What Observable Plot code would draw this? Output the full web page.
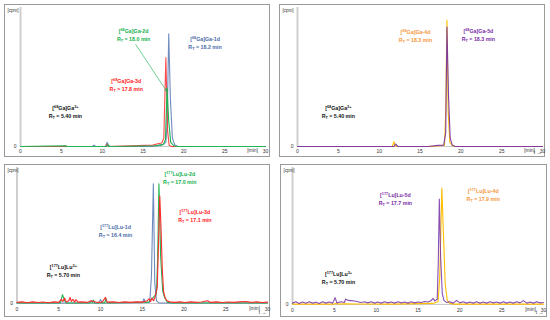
<!DOCTYPE html>
<html><head><meta charset="utf-8">
<script src="https://cdn.jsdelivr.net/npm/d3@7"></script>
<script src="https://cdn.jsdelivr.net/npm/@observablehq/plot@0.6"></script>
<style>
body{margin:0;background:#fff;}
#wrap{position:relative;width:550px;height:320px;background:#fff;font-family:"Liberation Sans",Arial,sans-serif;}
.panel{position:absolute;border:1px solid #9a9a9a;box-sizing:border-box;}
.panel svg{display:block;}
</style></head>
<body><div id="wrap"></div>
<script>
// ---------- data: [time (min), relative counts] ----------
const xTicks = [0, 5, 10, 15, 20, 25, 30];

// Panel A: 68Ga complexes 1d-3d
const ga1d = [[0,0],[8.8,0],[9.0,0.01],[9.2,0],[10.4,0],[10.6,0.03],[10.8,0.005],[11,0],[16,0],[17.3,0.01],[17.8,0.03],[17.95,0.15],[18.15,0.81],[18.35,0.35],[18.6,0.06],[18.9,0.01],[19.3,0],[30,0]];
const ga2d = [[0,0],[5.5,0.005],[5.7,0],[10.5,0],[10.7,0.012],[10.9,0],[16.5,0.005],[17.5,0.015],[17.75,0.05],[17.95,0.42],[18.15,0.18],[18.4,0.03],[18.8,0.005],[19.2,0],[30,0]];
const ga3d = [[0,0],[5.3,0],[5.5,0.005],[5.7,0],[10.4,0],[10.6,0.015],[10.8,0],[16.2,0.01],[16.8,0.02],[17.3,0.025],[17.55,0.06],[17.8,0.64],[18.0,0.12],[18.2,0.01],[18.5,0],[30,0]];

// Panel B: 68Ga complexes 4d-5d
const ga4d = [[0,0],[11.6,0],[11.8,0.035],[11.95,0.005],[12.2,0],[16,0],[17.5,0.005],[18.0,0.01],[18.15,0.25],[18.3,0.91],[18.45,0.25],[18.65,0.03],[19.0,0.005],[19.3,0],[30,0]];
const ga5d = [[0,0],[11.8,0],[12.0,0.018],[12.3,0],[16,0],[17.2,0.008],[17.9,0.01],[18.15,0.1],[18.3,0.86],[18.5,0.35],[18.7,0.06],[18.95,0.01],[19.3,0],[30,0]];

// Panel C: 177Lu complexes 1d-3d
const lu1d = [[0,0.004],[3,0.004],[8.7,0.004],[8.9,0.022],[9.1,0.004],[9.8,0.004],[10.0,0.03],[10.2,0.004],[15.0,0.006],[15.2,0.035],[15.4,0.006],[15.9,0.01],[16.1,0.2],[16.33,0.88],[16.5,0.15],[16.7,0.02],[17.0,0.004],[30,0.004]];
const lu2d = [[0,0.004],[5.2,0.004],[5.45,0.065],[5.7,0.02],[5.9,0.004],[9.0,0.004],[9.15,0.025],[9.3,0.004],[10.5,0.004],[10.65,0.035],[10.8,0.004],[15.8,0.01],[16.0,0.025],[16.4,0.05],[16.7,0.07],[16.85,0.35],[17.0,0.88],[17.2,0.35],[17.45,0.09],[17.7,0.04],[18.0,0.01],[18.5,0.004],[30,0.004]];
const lu3d = [[0,0.008],[0.6,0.012],[1.2,0.006],[1.9,0.012],[2.5,0.007],[3.1,0.011],[3.8,0.006],[4.4,0.012],[5.0,0.008],[5.3,0.03],[5.5,0.015],[5.7,0.04],[5.9,0.01],[6.2,0.02],[6.35,0.045],[6.5,0.015],[6.7,0.03],[6.9,0.01],[7.05,0.028],[7.3,0.01],[7.8,0.012],[8.4,0.008],[8.9,0.02],[9.2,0.015],[9.6,0.008],[10.2,0.01],[10.6,0.045],[10.8,0.01],[11.5,0.012],[12.2,0.007],[12.9,0.012],[13.6,0.008],[14.3,0.012],[15.0,0.01],[15.6,0.02],[15.8,0.035],[16.0,0.015],[16.15,0.04],[16.35,0.02],[16.55,0.05],[16.8,0.12],[16.95,0.45],[17.1,0.79],[17.25,0.55],[17.4,0.25],[17.55,0.09],[17.75,0.04],[17.95,0.02],[18.3,0.012],[18.9,0.008],[19.5,0.012],[20.1,0.007],[20.8,0.012],[21.5,0.008],[22.1,0.011],[22.8,0.02],[23.2,0.008],[23.9,0.012],[24.6,0.007],[25.3,0.011],[26.0,0.008],[26.7,0.012],[27.4,0.015],[28.0,0.008],[28.7,0.012],[29.4,0.007],[30,0.01]];

// Panel D: 177Lu complexes 4d-5d
const lu4d = [[0,0.003],[5.0,0.003],[5.2,0.01],[5.4,0.003],[6.2,0.006],[7.5,0.004],[12,0.003],[16.8,0.008],[17.4,0.02],[17.6,0.2],[17.85,0.85],[18.05,0.5],[18.25,0.15],[18.5,0.03],[18.8,0.008],[19.3,0.003],[30,0.003]];
const lu5d = [[0,0.01],[0.4,0.02],[0.8,0.008],[1.2,0.018],[1.6,0.009],[2.0,0.02],[2.4,0.01],[2.8,0.017],[3.2,0.008],[3.6,0.02],[4.0,0.01],[4.4,0.018],[4.8,0.01],[5.1,0.05],[5.3,0.012],[5.8,0.02],[6.2,0.015],[6.35,0.04],[6.6,0.03],[7.0,0.028],[7.4,0.025],[7.8,0.02],[8.2,0.015],[8.6,0.02],[9.0,0.012],[9.4,0.02],[9.8,0.01],[10.2,0.018],[10.6,0.01],[11.0,0.02],[11.4,0.012],[11.8,0.018],[12.2,0.01],[12.6,0.02],[13.0,0.012],[13.4,0.018],[13.8,0.01],[14.2,0.02],[14.6,0.012],[15.0,0.018],[15.4,0.014],[15.8,0.022],[16.2,0.018],[16.6,0.03],[16.8,0.045],[17.0,0.025],[17.3,0.04],[17.42,0.3],[17.55,0.77],[17.7,0.35],[17.9,0.08],[18.1,0.03],[18.4,0.015],[18.8,0.02],[19.2,0.01],[19.6,0.03],[20.0,0.012],[20.4,0.02],[20.8,0.01],[21.2,0.018],[21.6,0.01],[22.0,0.02],[22.4,0.01],[22.8,0.018],[23.2,0.01],[23.6,0.02],[24.0,0.012],[24.4,0.018],[24.8,0.01],[25.2,0.02],[25.6,0.01],[26.0,0.018],[26.4,0.01],[26.8,0.02],[27.2,0.012],[27.6,0.028],[28.0,0.01],[28.4,0.018],[28.8,0.01],[29.2,0.02],[29.6,0.012],[30,0.015]];

// annotation texts (two lines each) and their anchor (time, relative counts)
const annA = [
  {t:13.85, v:0.80, l1:"[^{68}Ga]Ga-2d", l2:"R_{T} = 18.0 min", c:"#12b04c"},
  {t:22.6,  v:0.745, l1:"[^{68}Ga]Ga-1d", l2:"R_{T} = 18.2 min", c:"#4a6aa8"},
  {t:12.95, v:0.44, l1:"[^{68}Ga]Ga-3d", l2:"R_{T} = 17.8 min", c:"#ff1a1a"},
  {t:5.5,   v:0.245, l1:"[^{68}Ga]Ga^{3+}", l2:"R_{T} = 5.40 min", c:"#111"}
];
const arrowA = [{t1:14.1, v1:0.735, t2:17.87, v2:0.40}];
const annB = [
  {t:14.45, v:0.795, l1:"[^{68}Ga]Ga-4d", l2:"R_{T} = 18.3 min", c:"#f7963c"},
  {t:22.15, v:0.80, l1:"[^{68}Ga]Ga-5d", l2:"R_{T} = 18.3 min", c:"#7a2aa6"},
  {t:5.0,   v:0.245, l1:"[^{68}Ga]Ga^{3+}", l2:"R_{T} = 5.40 min", c:"#111"}
];
const annC = [
  {t:19.5, v:0.92, l1:"[^{177}Lu]Lu-2d", l2:"R_{T} = 17.0 min", c:"#12b04c"},
  {t:21.3, v:0.64, l1:"[^{177}Lu]Lu-3d", l2:"R_{T} = 17.1 min", c:"#ff1a1a"},
  {t:11.8, v:0.53, l1:"[^{177}Lu]Lu-1d", l2:"R_{T} = 16.4 min", c:"#4a6aa8"},
  {t:5.55, v:0.235, l1:"[^{177}Lu]Lu^{3+}", l2:"R_{T} = 5.70 min", c:"#111"}
];
const annD = [
  {t:12.3, v:0.77, l1:"[^{177}Lu]Lu-5d", l2:"R_{T} = 17.7 min", c:"#7a2aa6"},
  {t:22.8, v:0.795, l1:"[^{177}Lu]Lu-4d", l2:"R_{T} = 17.9 min", c:"#f7963c"},
  {t:5.5,  v:0.19, l1:"[^{177}Lu]Lu^{3+}", l2:"R_{T} = 5.70 min", c:"#111"}
];

const C = {blue:"#5677b4", red:"#ff2a2a", green:"#1fb455", orange:"#ffbf00", purple:"#7430a6"};

// turn ^{..} / _{..} markers into super/subscript tspans
function rich(svg){
  const ns = "http://www.w3.org/2000/svg";
  svg.querySelectorAll("text").forEach(node=>{
    if (node.children.length) return;
    const s = node.textContent;
    if (!/[\^_]\{/.test(s)) return;
    const parts = s.split(/(\^\{[^}]*\}|_\{[^}]*\})/).filter(p=>p.length);
    node.textContent = "";
    let shift = 0;
    parts.forEach(p=>{
      let target = 0, txt = p, small = false;
      if (p.startsWith("^{")) { target = -1.9; txt = p.slice(2,-1); small = true; }
      else if (p.startsWith("_{")) { target = 1.0; txt = p.slice(2,-1); small = true; }
      if (!small && shift === 0) { node.appendChild(document.createTextNode(txt)); return; }
      const ts = document.createElementNS(ns, "tspan");
      if (target - shift !== 0) ts.setAttribute("dy", target - shift);
      shift = target;
      if (small) ts.setAttribute("font-size", "3.8");
      ts.textContent = txt;
      node.appendChild(ts);
    });
  });
}

function panel(cfg){
  const div = document.createElement("div");
  div.className = "panel";
  div.style.left = cfg.left + "px"; div.style.top = cfg.top + "px";
  div.style.width = cfg.w + "px"; div.style.height = cfg.h + "px";
  const marks = [
    Plot.ruleY([0], {stroke:"#c9c9c9", strokeWidth:1}),
    Plot.ruleX([0], {stroke:"#cfcfcf", strokeWidth:2}),
    Plot.axisX({ticks:xTicks, tickSize:0, tickPadding:cfg.tp, fontSize:5, fill:"#333", tickFormat:d=>d}),
    Plot.text(["0"], {x:0, y:0, text:d=>d, dx:-4, textAnchor:"end", fontSize:5, fill:"#333"}),
    Plot.text(["[cpm]"], {frameAnchor:"top-left", text:d=>d, dx:-cfg.ml+2, dy:1, textAnchor:"start", fontSize:4.5, fill:"#333"}),
    Plot.text(["[min]"], {x:30, y:0, text:d=>d, dx:-7.5, dy:cfg.tp - 1.5, textAnchor:"end", lineAnchor:"top", fontSize:5, fill:"#333"}),
  ];
  cfg.series.forEach(s=>{
    marks.push(Plot.line(s.data, {x:d=>d[0], y:d=>d[1], stroke:s.color, strokeWidth:1.1, strokeOpacity:s.op ?? 1}));
  });
  if (cfg.arrows) marks.push(Plot.arrow(cfg.arrows, {x1:"t1", y1:"v1", x2:"t2", y2:"v2", stroke:"#12b04c", strokeWidth:0.6, headLength:5}));
  const st = {fill:"c", fontSize:5.3, fontWeight:"bold"};
  marks.push(Plot.text(cfg.ann, {x:"t", y:"v", text:"l1", dy:-4, ...st}));
  marks.push(Plot.text(cfg.ann, {x:"t", y:"v", text:"l2", dy:4, ...st}));
  const svg = Plot.plot({
    width: cfg.w - 2, height: cfg.h - 2,
    marginLeft: cfg.ml, marginRight: cfg.mr, marginTop: cfg.mt, marginBottom: cfg.mb,
    x: {domain:[0,30], axis:null},
    y: {domain:[0,1], axis:null},
    style: {fontFamily:"'Liberation Sans', Arial, sans-serif", background:"transparent", overflow:"visible"},
    marks
  });
  rich(svg);
  div.appendChild(svg);
  document.getElementById("wrap").appendChild(div);
}

panel({left:4, top:4, w:266, h:153, ml:15, mr:4, mt:2, mb:10, tp:3,
  series:[{data:ga1d,color:C.blue,op:0.85},{data:ga3d,color:C.red,op:0.85},{data:ga2d,color:C.green}],
  ann:annA, arrows:arrowA});
panel({left:279, top:4, w:266, h:153, ml:17, mr:2, mt:2, mb:10, tp:3,
  series:[{data:ga4d,color:C.orange},{data:ga5d,color:C.purple,op:0.9}],
  ann:annB});
panel({left:4, top:164, w:266, h:153, ml:11.5, mr:2, mt:2, mb:13, tp:4,
  series:[{data:lu1d,color:C.blue,op:0.85},{data:lu2d,color:C.green},{data:lu3d,color:C.red}],
  ann:annC});
panel({left:280, top:164, w:267, h:153, ml:11, mr:3, mt:2, mb:12, tp:4,
  series:[{data:lu4d,color:C.orange},{data:lu5d,color:C.purple,op:0.85}],
  ann:annD});
</script></body></html>
